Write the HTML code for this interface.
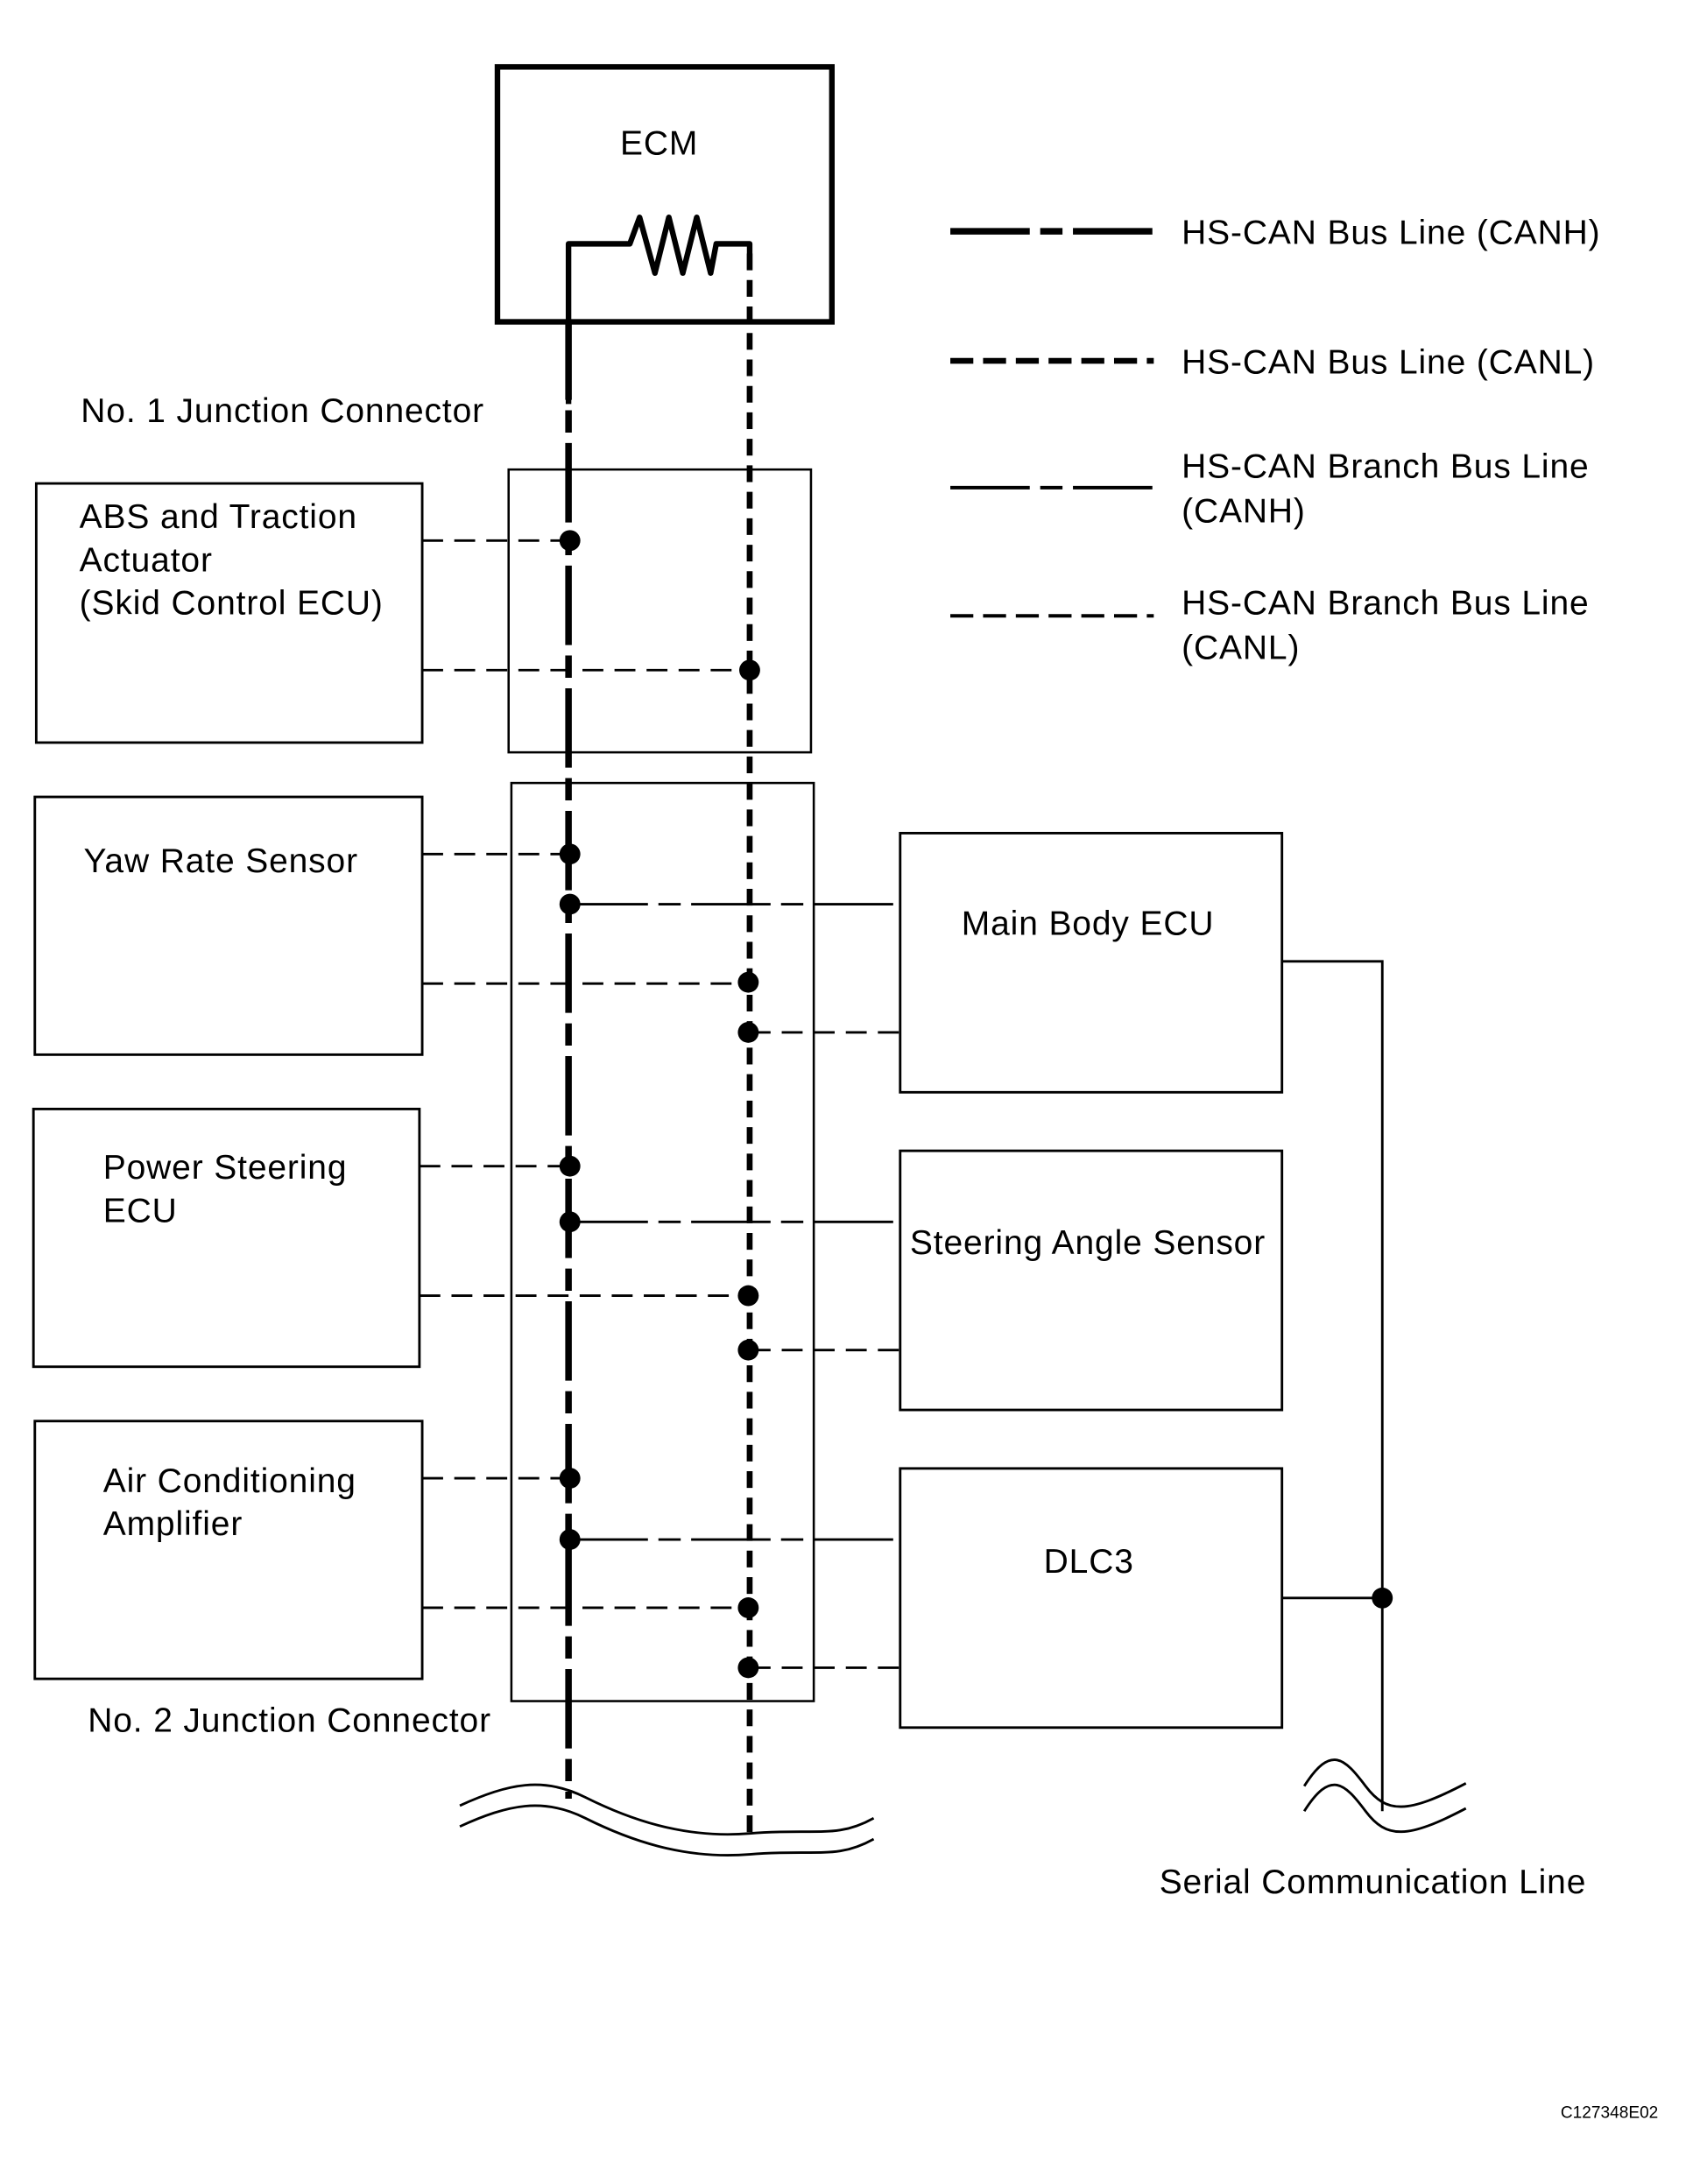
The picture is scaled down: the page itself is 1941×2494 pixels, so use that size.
<!DOCTYPE html>
<html><head><meta charset="utf-8"><style>html,body{margin:0;padding:0;background:#fff}svg{display:block}</style></head>
<body>
<svg width="1941" height="2494" viewBox="0 0 1220 1567.6" preserveAspectRatio="none" xmlns="http://www.w3.org/2000/svg" font-family="Liberation Sans, sans-serif" font-size="24.5" letter-spacing="0.55" fill="#000">
<g fill="none" stroke="#000">
<rect x="357" y="48" width="240" height="183" stroke-width="4"/>
<polyline points="408,290 408,175 452,175 459,156 470,196 480,156 490,196 500,156 510,196 514,175 538,175 538,182" stroke-width="4" stroke-linejoin="round"/>
<line x1="408" y1="230" x2="408" y2="1291" stroke-width="4.7" stroke-dasharray="57 7.5 16 7.5"/>
<line x1="538" y1="182" x2="538" y2="1316" stroke-width="4.2" stroke-dasharray="12 7"/>
<rect x="365" y="337" width="217" height="203" stroke-width="1.6"/>
<rect x="367" y="562" width="217" height="659" stroke-width="1.6"/>
<rect x="26" y="347" width="277" height="186" stroke-width="1.8"/>
<rect x="25" y="572" width="278" height="185" stroke-width="1.8"/>
<rect x="24" y="796" width="277" height="185" stroke-width="1.8"/>
<rect x="25" y="1020" width="278" height="185" stroke-width="1.8"/>
<rect x="646" y="598" width="274" height="186" stroke-width="1.8"/>
<rect x="646" y="826" width="274" height="186" stroke-width="1.8"/>
<rect x="646" y="1054" width="274" height="186" stroke-width="1.8"/>
<g stroke-width="1.8" stroke-dasharray="15 8">
<line x1="303" y1="388" x2="408" y2="388"/><line x1="303" y1="481" x2="538" y2="481"/>
<line x1="303" y1="613" x2="408" y2="613"/><line x1="303" y1="706" x2="538" y2="706"/>
<line x1="301" y1="837" x2="408" y2="837"/><line x1="301" y1="930" x2="538" y2="930"/>
<line x1="303" y1="1061" x2="408" y2="1061"/><line x1="303" y1="1154" x2="538" y2="1154"/>
<line x1="538" y1="741" x2="646" y2="741"/><line x1="538" y1="969" x2="646" y2="969"/><line x1="538" y1="1197" x2="646" y2="1197"/>
</g>
<g stroke-width="1.8" stroke-dasharray="57 7.5 16 7.5">
<line x1="408" y1="649" x2="646" y2="649"/><line x1="408" y1="877" x2="646" y2="877"/><line x1="408" y1="1105" x2="646" y2="1105"/>
</g>
<polyline points="920,690 992,690 992,1300" stroke-width="1.8"/>
<line x1="920" y1="1147" x2="992" y2="1147" stroke-width="1.8"/>
<path d="M936,1300 C955,1270 965,1280 980,1300 S1010,1320 1052,1298" stroke-width="1.8"/>
<path d="M936,1282 C955,1252 965,1262 980,1282 S1010,1302 1052,1280" stroke-width="1.8"/>
<path d="M330,1296 C365,1280 390,1275 420,1290 S490,1320 538,1316 S600,1320 627,1305" stroke-width="1.8"/>
<path d="M330,1311 C365,1295 390,1290 420,1305 S490,1335 538,1331 S600,1335 627,1320" stroke-width="1.8"/>
<line x1="682" y1="166" x2="828" y2="166" stroke-width="4.7" stroke-dasharray="57 7.5 16 7.5"/>
<line x1="682" y1="259" x2="828" y2="259" stroke-width="4.2" stroke-dasharray="16.5 7"/>
<line x1="682" y1="350" x2="828" y2="350" stroke-width="2.5" stroke-dasharray="57 7.5 16 7.5"/>
<line x1="682" y1="442" x2="828" y2="442" stroke-width="2.5" stroke-dasharray="16.5 7"/>
</g>
<g>
<circle cx="409" cy="388" r="7.5"/><circle cx="538" cy="481" r="7.5"/>
<circle cx="409" cy="613" r="7.5"/><circle cx="409" cy="649" r="7.5"/><circle cx="537" cy="705" r="7.5"/><circle cx="537" cy="741" r="7.5"/>
<circle cx="409" cy="837" r="7.5"/><circle cx="409" cy="877" r="7.5"/><circle cx="537" cy="930" r="7.5"/><circle cx="537" cy="969" r="7.5"/>
<circle cx="409" cy="1061" r="7.5"/><circle cx="409" cy="1105" r="7.5"/><circle cx="537" cy="1154" r="7.5"/><circle cx="537" cy="1197" r="7.5"/>
<circle cx="992" cy="1147" r="7.5"/>
</g>
<text x="445" y="111">ECM</text>
<text x="58" y="303">No. 1 Junction Connector</text>
<text x="57" y="379">ABS and Traction</text>
<text x="57" y="410">Actuator</text>
<text x="57" y="441">(Skid Control ECU)</text>
<text x="60" y="626">Yaw Rate Sensor</text>
<text x="74" y="846">Power Steering</text>
<text x="74" y="877">ECU</text>
<text x="74" y="1071">Air Conditioning</text>
<text x="74" y="1102">Amplifier</text>
<text x="63" y="1243">No. 2 Junction Connector</text>
<text x="690" y="671">Main Body ECU</text>
<text x="653" y="900">Steering Angle Sensor</text>
<text x="749" y="1129">DLC3</text>
<text x="848" y="175">HS-CAN Bus Line (CANH)</text>
<text x="848" y="268">HS-CAN Bus Line (CANL)</text>
<text x="848" y="343">HS-CAN Branch Bus Line</text>
<text x="848" y="375">(CANH)</text>
<text x="848" y="441">HS-CAN Branch Bus Line</text>
<text x="848" y="473">(CANL)</text>
<text x="832" y="1359">Serial Communication Line</text>
<text x="1120" y="1520" font-size="12" letter-spacing="0">C127348E02</text>
</svg>
</body></html>
